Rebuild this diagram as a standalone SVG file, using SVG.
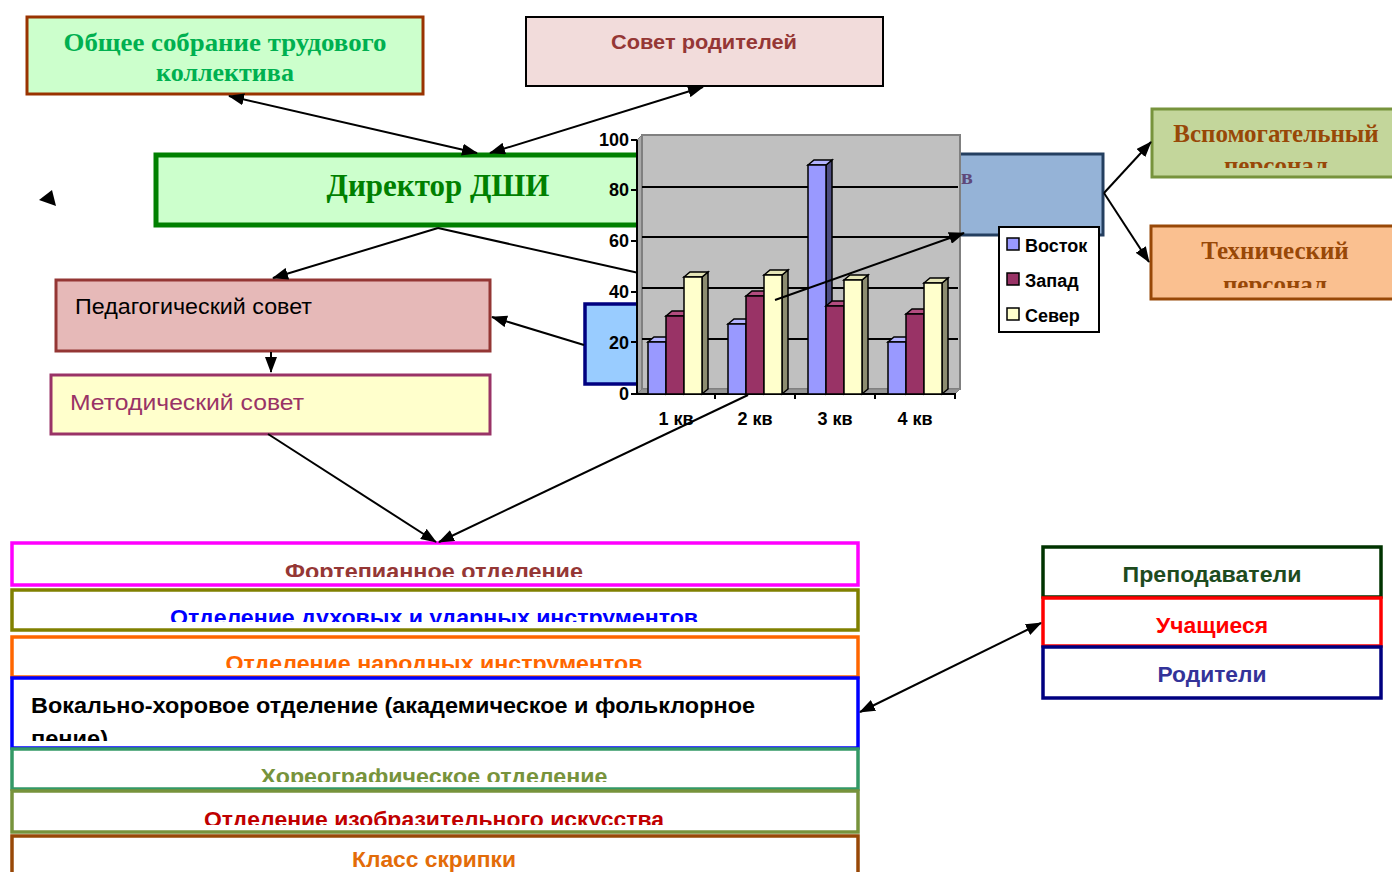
<svg xmlns="http://www.w3.org/2000/svg" width="1392" height="872" viewBox="0 0 1392 872">
<style>
.serif{font-family:"Liberation Serif","Times New Roman",serif;font-weight:bold}
.sans{font-family:"Liberation Sans",Arial,sans-serif}
.b{font-weight:bold}
.c{text-anchor:middle}
.ln{stroke:#000;stroke-width:2;fill:none}
.ax{font-family:"Liberation Sans",Arial,sans-serif;font-weight:bold;font-size:18px}
.bar{stroke:#000;stroke-width:1.5}
</style>
<defs>
<marker id="ah" viewBox="0 0 16 12" refX="15" refY="6" markerWidth="16" markerHeight="12" markerUnits="userSpaceOnUse" orient="auto-start-reverse"><path d="M0,0 L16,6 L0,12 Z" fill="#000"/></marker>
<clipPath id="cVs"><rect x="1150" y="108" width="242" height="60"/></clipPath>
<clipPath id="cTe"><rect x="1150" y="225" width="242" height="63"/></clipPath>
<clipPath id="cF1"><rect x="11" y="542" width="848" height="35"/></clipPath>
<clipPath id="cF2"><rect x="11" y="589" width="848" height="33"/></clipPath>
<clipPath id="cF3"><rect x="11" y="636" width="848" height="32"/></clipPath>
<clipPath id="cF4"><rect x="11" y="677" width="848" height="64"/></clipPath>
<clipPath id="cF5"><rect x="11" y="748" width="848" height="34"/></clipPath>
<clipPath id="cF6"><rect x="11" y="790" width="848" height="35"/></clipPath>
</defs>

<g id="n-director">
<rect x="156" y="155" width="600" height="70" fill="#CCFFCC" stroke="#008000" stroke-width="5"/>
<text x="438" y="196" class="serif c" font-size="31" fill="#008000">Директор ДШИ</text>
</g>
<g id="n-deputy-right">
<rect x="700" y="154" width="403" height="81" fill="#95B3D7" stroke="#243F60" stroke-width="3"/>
<text x="961" y="184" class="serif" font-size="22" fill="#5F497A">в</text>
</g>
<g id="n-deputy-left">
<rect x="585" y="304" width="140" height="80" fill="#99CCFF" stroke="#000080" stroke-width="3.5"/>
</g>

<g id="connectors-under">
<line x1="438" y1="228" x2="670" y2="280" class="ln"/>
</g>

<g id="n-chart">
<polygon points="637,140 642,135 642,389 637,394" fill="#A8A8A8" stroke="#808080" stroke-width="1"/>
<rect x="642" y="135" width="318" height="254" fill="#C0C0C0" stroke="#808080" stroke-width="2"/>
<polygon points="637,394 642,389 960,389 955,394" fill="#969696" stroke="#808080" stroke-width="1"/>
<g stroke="#000" stroke-width="2">
<line x1="642" y1="187" x2="958" y2="187"/>
<line x1="642" y1="237" x2="958" y2="237"/>
<line x1="642" y1="288" x2="958" y2="288"/>
<line x1="642" y1="339" x2="958" y2="339"/>
<line x1="637" y1="140" x2="637" y2="394"/>
<line x1="637" y1="394" x2="956" y2="394"/>
<line x1="631" y1="140" x2="637" y2="140"/>
<line x1="631" y1="190" x2="637" y2="190"/>
<line x1="631" y1="241" x2="637" y2="241"/>
<line x1="631" y1="292" x2="637" y2="292"/>
<line x1="631" y1="342" x2="637" y2="342"/>
<line x1="631" y1="394" x2="637" y2="394"/>
<line x1="715" y1="394" x2="715" y2="399"/>
<line x1="795" y1="394" x2="795" y2="399"/>
<line x1="875" y1="394" x2="875" y2="399"/>
<line x1="955" y1="394" x2="955" y2="399"/>
</g>
<g class="ax" text-anchor="end">
<text x="629" y="146">100</text>
<text x="629" y="196">80</text>
<text x="629" y="247">60</text>
<text x="629" y="298">40</text>
<text x="629" y="349">20</text>
<text x="629" y="400">0</text>
</g>
<g class="ax" text-anchor="middle">
<text x="676" y="425">1 кв</text>
<text x="755" y="425">2 кв</text>
<text x="835" y="425">3 кв</text>
<text x="915" y="425">4 кв</text>
</g>
<g class="bar">
<polygon points="666,342 672,337 672,389 666,394" fill="#4D4D80"/>
<polygon points="648,342 654,337 672,337 666,342" fill="#B3B3FF"/>
<rect x="648" y="342" width="18" height="52" fill="#9999FF"/>
<polygon points="684,316 690,311 690,389 684,394" fill="#4D1A33"/>
<polygon points="666,316 672,311 690,311 684,316" fill="#B34D80"/>
<rect x="666" y="316" width="18" height="78" fill="#993366"/>
<polygon points="702,277 708,272 708,389 702,394" fill="#8C8C70"/>
<polygon points="684,277 690,272 708,272 702,277" fill="#E6E6B8"/>
<rect x="684" y="277" width="18" height="117" fill="#FFFFCC"/>
<polygon points="746,324 752,319 752,389 746,394" fill="#4D4D80"/>
<polygon points="728,324 734,319 752,319 746,324" fill="#B3B3FF"/>
<rect x="728" y="324" width="18" height="70" fill="#9999FF"/>
<polygon points="764,296 770,291 770,389 764,394" fill="#4D1A33"/>
<polygon points="746,296 752,291 770,291 764,296" fill="#B34D80"/>
<rect x="746" y="296" width="18" height="98" fill="#993366"/>
<polygon points="782,275 788,270 788,389 782,394" fill="#8C8C70"/>
<polygon points="764,275 770,270 788,270 782,275" fill="#E6E6B8"/>
<rect x="764" y="275" width="18" height="119" fill="#FFFFCC"/>
<polygon points="826,165 832,160 832,389 826,394" fill="#4D4D80"/>
<polygon points="808,165 814,160 832,160 826,165" fill="#B3B3FF"/>
<rect x="808" y="165" width="18" height="229" fill="#9999FF"/>
<polygon points="844,306 850,301 850,389 844,394" fill="#4D1A33"/>
<polygon points="826,306 832,301 850,301 844,306" fill="#B34D80"/>
<rect x="826" y="306" width="18" height="88" fill="#993366"/>
<polygon points="862,280 868,275 868,389 862,394" fill="#8C8C70"/>
<polygon points="844,280 850,275 868,275 862,280" fill="#E6E6B8"/>
<rect x="844" y="280" width="18" height="114" fill="#FFFFCC"/>
<polygon points="906,342 912,337 912,389 906,394" fill="#4D4D80"/>
<polygon points="888,342 894,337 912,337 906,342" fill="#B3B3FF"/>
<rect x="888" y="342" width="18" height="52" fill="#9999FF"/>
<polygon points="924,314 930,309 930,389 924,394" fill="#4D1A33"/>
<polygon points="906,314 912,309 930,309 924,314" fill="#B34D80"/>
<rect x="906" y="314" width="18" height="80" fill="#993366"/>
<polygon points="942,283 948,278 948,389 942,394" fill="#8C8C70"/>
<polygon points="924,283 930,278 948,278 942,283" fill="#E6E6B8"/>
<rect x="924" y="283" width="18" height="111" fill="#FFFFCC"/>
</g>
<g id="legend">
<rect x="999" y="227" width="100" height="105" fill="#FFF" stroke="#000" stroke-width="2"/>
<rect x="1007" y="238" width="12" height="12" fill="#9999FF" stroke="#000" stroke-width="1.5"/>
<rect x="1007" y="273" width="12" height="12" fill="#993366" stroke="#000" stroke-width="1.5"/>
<rect x="1007" y="308" width="12" height="12" fill="#FFFFCC" stroke="#000" stroke-width="1.5"/>
<text x="1025" y="252" class="ax">Восток</text>
<text x="1025" y="287" class="ax">Запад</text>
<text x="1025" y="322" class="ax">Север</text>
</g>
</g>

<g id="n-obshchee">
<rect x="27" y="17" width="396" height="77" fill="#CCFFCC" stroke="#993300" stroke-width="3"/>
<text x="225" y="51" class="serif c" font-size="26" fill="#00B050" textLength="323" lengthAdjust="spacingAndGlyphs">Общее собрание трудового</text>
<text x="225" y="81" class="serif c" font-size="26" fill="#00B050">коллектива</text>
</g>
<g id="n-sovet-roditeley">
<rect x="526" y="17" width="357" height="69" fill="#F2DCDB" stroke="#000" stroke-width="2"/>
<text x="704" y="49" class="sans b c" font-size="21" fill="#953735" textLength="186" lengthAdjust="spacingAndGlyphs">Совет родителей</text>
</g>
<g id="n-vspom">
<rect x="1152" y="109" width="245" height="68" fill="#C3D69B" stroke="#77933C" stroke-width="3"/>
<g clip-path="url(#cVs)"><text x="1276" y="142" class="serif c" font-size="25" fill="#984807">Вспомогательный</text>
<text x="1276" y="174" class="serif c" font-size="25" fill="#984807">персонал</text></g>
</g>
<g id="n-tekh">
<rect x="1151" y="226" width="245" height="73" fill="#FAC090" stroke="#984807" stroke-width="3"/>
<g clip-path="url(#cTe)"><text x="1275" y="259" class="serif c" font-size="25" fill="#984807">Технический</text>
<text x="1275" y="293" class="serif c" font-size="25" fill="#984807">персонал</text></g>
</g>
<g id="n-ped">
<rect x="56" y="280" width="434" height="71" fill="#E6B9B8" stroke="#943634" stroke-width="3"/>
<text x="75" y="314" class="sans" font-size="22" fill="#000" textLength="237" lengthAdjust="spacingAndGlyphs">Педагогический совет</text>
</g>
<g id="n-metod">
<rect x="51" y="375" width="439" height="59" fill="#FFFFCC" stroke="#993366" stroke-width="3"/>
<text x="70" y="410" class="sans" font-size="22" fill="#993366" textLength="234" lengthAdjust="spacingAndGlyphs">Методический совет</text>
</g>

<g id="n-dept1">
<rect x="12" y="543" width="846" height="42" fill="#FFF" stroke="#FF00FF" stroke-width="3.5"/>
<text x="434" y="579" clip-path="url(#cF1)" class="sans b c" font-size="22" fill="#953735" textLength="298" lengthAdjust="spacingAndGlyphs">Фортепианное отделение</text>
</g>
<g id="n-dept2">
<rect x="12" y="590" width="846" height="40" fill="#FFF" stroke="#808000" stroke-width="3.5"/>
<text x="434" y="625" clip-path="url(#cF2)" class="sans b c" font-size="22" fill="#0000FF" textLength="528" lengthAdjust="spacingAndGlyphs">Отделение духовых и ударных инструментов</text>
</g>
<g id="n-dept3">
<rect x="12" y="637" width="846" height="40" fill="#FFF" stroke="#FF6600" stroke-width="3.5"/>
<text x="434" y="671" clip-path="url(#cF3)" class="sans b c" font-size="22" fill="#FF6600" textLength="417" lengthAdjust="spacingAndGlyphs">Отделение народных инструментов</text>
</g>
<g id="n-dept4">
<rect x="12" y="678" width="846" height="70" fill="#FFF" stroke="#0000FF" stroke-width="3.5"/>
<g clip-path="url(#cF4)"><text x="31" y="713" class="sans b" font-size="22" fill="#000" textLength="724" lengthAdjust="spacingAndGlyphs">Вокально-хоровое отделение (академическое и фольклорное</text>
<text x="31" y="746" class="sans b" font-size="22" fill="#000" textLength="77" lengthAdjust="spacingAndGlyphs">пение)</text></g>
</g>
<g id="n-dept5">
<rect x="12" y="749" width="846" height="40" fill="#FFF" stroke="#339966" stroke-width="3.5"/>
<text x="434" y="784" clip-path="url(#cF5)" class="sans b c" font-size="22" fill="#77933C" textLength="347" lengthAdjust="spacingAndGlyphs">Хореографическое отделение</text>
</g>
<g id="n-dept6">
<rect x="12" y="791" width="846" height="41" fill="#FFF" stroke="#77933C" stroke-width="3.5"/>
<text x="434" y="827" clip-path="url(#cF6)" class="sans b c" font-size="22" fill="#C00000" textLength="460" lengthAdjust="spacingAndGlyphs">Отделение изобразительного искусства</text>
</g>
<g id="n-dept7">
<rect x="12" y="836" width="846" height="40" fill="#FFF" stroke="#984807" stroke-width="3.5"/>
<text x="434" y="867" class="sans b c" font-size="22" fill="#E36C09" textLength="164" lengthAdjust="spacingAndGlyphs">Класс скрипки</text>
</g>

<g id="n-prepod">
<rect x="1043" y="547" width="338" height="50" fill="#FFF" stroke="#003300" stroke-width="3.5"/>
<text x="1212" y="582" class="sans b c" font-size="22" fill="#1E4B1E" textLength="179" lengthAdjust="spacingAndGlyphs">Преподаватели</text>
</g>
<g id="n-uchasch">
<rect x="1043" y="598" width="338" height="48" fill="#FFF" stroke="#FF0000" stroke-width="3.5"/>
<text x="1212" y="633" class="sans b c" font-size="22" fill="#FF0000" textLength="112" lengthAdjust="spacingAndGlyphs">Учащиеся</text>
</g>
<g id="n-roditeli">
<rect x="1043" y="647" width="338" height="51" fill="#FFF" stroke="#000080" stroke-width="3.5"/>
<text x="1212" y="682" class="sans b c" font-size="22" fill="#333399" textLength="109" lengthAdjust="spacingAndGlyphs">Родители</text>
</g>

<g id="connectors">
<line x1="229" y1="96" x2="477" y2="153" class="ln" marker-start="url(#ah)" marker-end="url(#ah)"/>
<line x1="703" y1="87" x2="490" y2="153" class="ln" marker-start="url(#ah)" marker-end="url(#ah)"/>
<line x1="438" y1="228" x2="273" y2="278" class="ln" marker-end="url(#ah)"/>
<line x1="584" y1="345" x2="492" y2="317" class="ln" marker-end="url(#ah)"/>
<line x1="271" y1="352" x2="271" y2="372" class="ln" marker-end="url(#ah)"/>
<line x1="268" y1="434" x2="436" y2="542" class="ln" marker-end="url(#ah)"/>
<line x1="748" y1="395" x2="439" y2="542" class="ln" marker-end="url(#ah)"/>
<line x1="775" y1="300" x2="964" y2="233" class="ln" marker-end="url(#ah)"/>
<line x1="1104" y1="193" x2="1151" y2="142" class="ln" marker-end="url(#ah)"/>
<line x1="1104" y1="193" x2="1149" y2="262" class="ln" marker-end="url(#ah)"/>
<line x1="860" y1="712" x2="1041" y2="623" class="ln" marker-start="url(#ah)" marker-end="url(#ah)"/>
<polygon points="39,200 52,190 56,206" fill="#000"/>
</g>
</svg>
